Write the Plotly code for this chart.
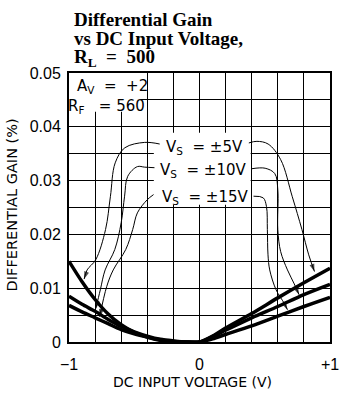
import plotly.graph_objects as go

# DC input voltage (V)
vin = [-1.0, -0.9, -0.8, -0.7, -0.6, -0.5, -0.4, -0.3, -0.2, -0.1, 0.0,
       0.1, 0.2, 0.4, 0.6, 0.8, 1.0]

# Differential gain (%) for each supply voltage
dg_5v = [0.0150, 0.0112, 0.0079, 0.0052, 0.0032, 0.0018, 0.0009, 0.0003, 0.0001, 0.0000, 0.0000,
         0.0011, 0.0026, 0.0053, 0.0082, 0.0110, 0.0137]
dg_10v = [0.0085, 0.0070, 0.0057, 0.0042, 0.0029, 0.0019, 0.0011, 0.0005, 0.0002, 0.0000, 0.0000,
          0.0010, 0.0022, 0.0045, 0.0066, 0.0088, 0.0107]
dg_15v = [0.0068, 0.0056, 0.0045, 0.0034, 0.0023, 0.0015, 0.0009, 0.0004, 0.0001, 0.0000, 0.0000,
          0.0006, 0.0014, 0.0030, 0.0048, 0.0066, 0.0083]

NB = "\u00a0"
series_labels = [f"V<sub>S</sub>{NB*2}={NB}\u00b15V",
                 f"V<sub>S</sub>{NB*2}={NB}\u00b110V",
                 f"V<sub>S</sub>{NB*2}={NB}\u00b115V"]
label_x = [-0.270, -0.315, -0.305]
label_y = [0.0361, 0.0318, 0.0268]

# Leader lines from each label to its curve (data units)
lead_5v_left_x = [-0.305, -0.420, -0.572, -0.646, -0.683, -0.720, -0.795, -0.861, -0.884]
lead_5v_left_y = [0.0368, 0.0371, 0.0361, 0.0333, 0.0270, 0.0209, 0.0153, 0.0134, 0.0117]
lead_10v_left_x = [-0.345, -0.420, -0.476, -0.550, -0.574, -0.600, -0.649, -0.723, -0.760, -0.795]
lead_10v_left_y = [0.0324, 0.0325, 0.0326, 0.0308, 0.0271, 0.0222, 0.0172, 0.0134, 0.0097, 0.0062]
lead_15v_left_x = [-0.352, -0.402, -0.476, -0.512, -0.565, -0.661, -0.711, -0.765]
lead_15v_left_y = [0.0274, 0.0264, 0.0240, 0.0209, 0.0172, 0.0134, 0.0103, 0.0047]

lead_5v_right_x = [0.378, 0.440, 0.526, 0.622, 0.711, 0.785, 0.837, 0.881]
lead_5v_right_y = [0.0370, 0.0373, 0.0368, 0.0339, 0.0270, 0.0209, 0.0162, 0.0131]
lead_10v_right_x = [0.399, 0.503, 0.577, 0.600, 0.600, 0.622, 0.674, 0.726, 0.763]
lead_10v_right_y = [0.0322, 0.0323, 0.0313, 0.0283, 0.0209, 0.0168, 0.0134, 0.0108, 0.0088]
lead_15v_right_x = [0.414, 0.488, 0.513, 0.520, 0.525, 0.538, 0.587, 0.649, 0.674]
lead_15v_right_y = [0.0271, 0.0268, 0.0252, 0.0209, 0.0162, 0.0134, 0.0097, 0.0072, 0.0060]

x_tick_vals = [-1.0, -0.8, -0.6, -0.4, -0.2, 0.0, 0.2, 0.4, 0.6, 0.8, 1.0]
x_tick_text = ["\u22121", "", "", "", "", "0", "", "", "", "", "+1"]
y_tick_vals = [0.0, 0.005, 0.01, 0.015, 0.02, 0.025, 0.03, 0.035, 0.04, 0.045, 0.05]
y_tick_text = ["0", "", "0.01", "", "0.02", "", "0.03", "", "0.04", "", "0.05"]

SANS = "Liberation Sans, Arial, sans-serif"
WIDE = "DejaVu Sans, sans-serif"
SERIF = "Liberation Serif, Times New Roman, serif"

fig = go.Figure()

for ys in (dg_5v, dg_10v, dg_15v):
    fig.add_trace(go.Scatter(
        x=vin, y=ys, mode="lines", line=dict(color="black", width=3.5, shape="spline", smoothing=0.8),
        hoverinfo="skip", showlegend=False))

leaders = [
    (lead_5v_left_x, lead_5v_left_y), (lead_10v_left_x, lead_10v_left_y), (lead_15v_left_x, lead_15v_left_y),
    (lead_5v_right_x, lead_5v_right_y), (lead_10v_right_x, lead_10v_right_y), (lead_15v_right_x, lead_15v_right_y),
]
for lx, ly in leaders:
    n = len(lx)
    fig.add_trace(go.Scatter(
        x=lx, y=ly, mode="lines+markers",
        line=dict(color="black", width=1, shape="spline", smoothing=1.0),
        marker=dict(symbol=["circle"] * (n - 1) + ["arrow"], size=[0] * (n - 1) + [8],
                    angleref="previous", color="black", line=dict(width=0)),
        hoverinfo="skip", showlegend=False))

# white panels behind the in-plot labels
fig.add_shape(type="rect", xref="x", yref="y", x0=-1.0, x1=-0.453, y0=0.0428, y1=0.05,
              fillcolor="white", line=dict(width=0), layer="between")
fig.add_shape(type="rect", xref="x", yref="y", x0=-0.350, x1=0.392, y0=0.0255, y1=0.0389,
              fillcolor="white", line=dict(width=0), layer="between")

# setup conditions, top-left corner of the plot
fig.add_annotation(xref="paper", yref="y", x=0.022, y=0.0475, text=f"A<sub>V</sub>{NB*2}={NB*2}+2",
                   xanchor="left", yanchor="middle", showarrow=False,
                   font=dict(family=WIDE, size=15, color="black"))
fig.add_annotation(xref="paper", yref="y", x=-0.012, y=0.0438, text=f"R<sub>F</sub>{NB*3}={NB}560",
                   xanchor="left", yanchor="middle", showarrow=False,
                   font=dict(family=WIDE, size=15, color="black"))

for txt, xx, yy in zip(series_labels, label_x, label_y):
    fig.add_annotation(xref="x", yref="y", x=xx, y=yy, text=txt, xanchor="left", yanchor="middle",
                       showarrow=False, font=dict(family=WIDE, size=15, color="black"))

title_lines = ["Differential Gain", "vs DC Input Voltage,", f"R<sub>L</sub>{NB*2}={NB*2}500"]
title_y = [1.199, 1.128, 1.056]
for t, yy in zip(title_lines, title_y):
    fig.add_annotation(xref="paper", yref="paper", x=0.013, y=yy, text="<b>" + t + "</b>",
                       xanchor="left", yanchor="middle", showarrow=False,
                       font=dict(family=SERIF, size=19, color="black"))

# axis titles
fig.add_annotation(xref="paper", yref="paper", x=0.475, y=-0.1476, text="DC INPUT VOLTAGE (V)",
                   xanchor="center", yanchor="middle", showarrow=False,
                   font=dict(family=WIDE, size=14, color="black"))
fig.add_annotation(xref="paper", yref="paper", x=-0.22, y=0.51, text="DIFFERENTIAL GAIN (%)",
                   xanchor="center", yanchor="middle", showarrow=False, textangle=-90,
                   font=dict(family=WIDE, size=14.5, color="black"))

fig.update_layout(
    width=348, height=399,
    margin=dict(l=69, r=9, t=73, b=57),
    paper_bgcolor="white", plot_bgcolor="white",
    xaxis=dict(range=[-1, 1], tickmode="array", tickvals=x_tick_vals, ticktext=x_tick_text,
               showgrid=True, gridcolor="black", gridwidth=1.2, zeroline=False,
               showline=True, linecolor="black", linewidth=2, mirror=True, ticks="",
               ticklabelstandoff=7,
               tickfont=dict(family=SANS, size=16, color="black")),
    yaxis=dict(range=[0, 0.05], tickmode="array", tickvals=y_tick_vals, ticktext=y_tick_text,
               showgrid=True, gridcolor="black", gridwidth=1.2, zeroline=False,
               showline=True, linecolor="black", linewidth=2, mirror=True, ticks="",
               ticklabelstandoff=3,
               tickfont=dict(family=SANS, size=16, color="black")),
)

fig.write_html("out.html")
